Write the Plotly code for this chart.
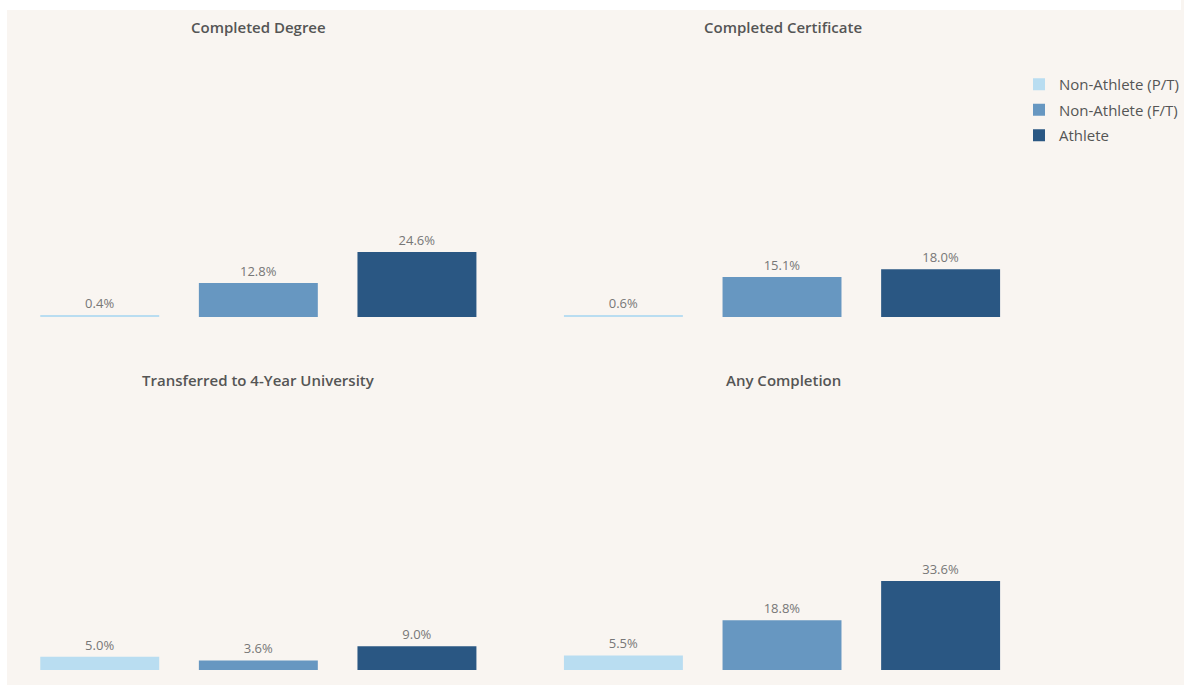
import plotly.graph_objects as go

W, H = 1184, 685

groups = ["Non-Athlete (P/T)", "Non-Athlete (F/T)", "Athlete"]
colors = ["#b9ddf1", "#6797c1", "#2a5783"]
panels = ["Completed Degree", "Completed Certificate",
          "Transferred to 4-Year University", "Any Completion"]
completed_degree = [0.4, 12.8, 24.6]
completed_certificate = [0.6, 15.1, 18.0]
transferred_4yr = [5.0, 3.6, 9.0]
any_completion = [5.5, 18.8, 33.6]
panel_values = [completed_degree, completed_certificate, transferred_4yr, any_completion]

bg = "#f9f5f1"
fig = go.Figure()

def px_x(p):
    return p / W

def px_y(p):
    return (H - p) / H

xdoms = [[px_x(20.5), px_x(497.5)], [px_x(545.5), px_x(1022.5)]]
ydoms = [[px_y(317), px_y(47)], [px_y(670), px_y(400)]]
title_pos = [(259, 27), (785, 27), (259, 380), (785, 380)]

for pi, (name, vals) in enumerate(zip(panels, panel_values)):
    row, col = divmod(pi, 2)
    ax = "" if pi == 0 else str(pi + 1)
    for gi, g in enumerate(groups):
        fig.add_trace(go.Bar(
            x=[g], y=[vals[gi]], name=g,
            marker=dict(color=colors[gi], line=dict(width=0)),
            width=0.75,
            text=[f"{vals[gi]:.1f}%"], textposition="outside",
            textfont=dict(family="Open Sans, sans-serif", size=13, color="#777777"),
            cliponaxis=False,
            showlegend=(pi == 0), legendgroup=g,
            xaxis="x" + ax, yaxis="y" + ax,
            hoverinfo="skip",
        ))
    fig.layout["xaxis" + ax] = dict(domain=xdoms[col], anchor="y" + ax,
                                     categoryorder="array", categoryarray=groups,
                                     range=[-0.5, 2.5],
                                     showticklabels=False, showgrid=False,
                                     zeroline=False, showline=False, fixedrange=True)
    fig.layout["yaxis" + ax] = dict(domain=ydoms[row], anchor="x" + ax,
                                     range=[0, 102], showticklabels=False,
                                     showgrid=False, zeroline=False, showline=False,
                                     fixedrange=True)
    tx, ty = title_pos[pi]
    fig.add_annotation(x=px_x(tx), y=px_y(ty), xref="paper", yref="paper",
                       text=name, showarrow=False, xanchor="center", yanchor="middle",
                       font=dict(family="Open Sans, sans-serif", size=15, color="#555555",
                                 weight=600))

# thin white strips at the top and left (outer frame)
fig.add_shape(type="rect", xref="paper", yref="paper", x0=0, x1=1, y0=px_y(10), y1=1,
              fillcolor="white", line=dict(width=0), layer="below")
fig.add_shape(type="rect", xref="paper", yref="paper", x0=0, x1=px_x(7), y0=0, y1=1,
              fillcolor="white", line=dict(width=0), layer="below")

fig.update_layout(
    width=W, height=H,
    margin=dict(l=0, r=0, t=0, b=0),
    paper_bgcolor=bg, plot_bgcolor="rgba(0,0,0,0)",
    barmode="overlay",
    showlegend=True,
    legend=dict(x=px_x(1022), y=px_y(68), xanchor="left", yanchor="top",
                traceorder="grouped", tracegroupgap=3,
                bgcolor="rgba(0,0,0,0)",
                font=dict(family="Open Sans, sans-serif", size=15, color="#555555"),
                itemwidth=30),
)

fig.write_html(
    "out.html",
    config={"displayModeBar": False},
    post_script="document.body.style.margin='0';document.body.style.overflow='hidden';",
)
